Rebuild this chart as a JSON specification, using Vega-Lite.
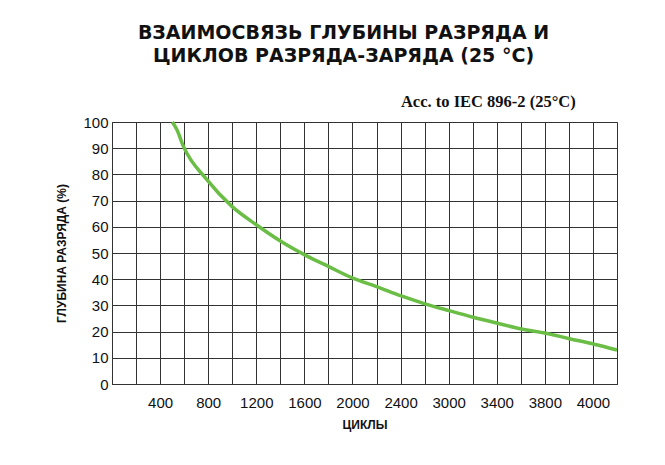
{
  "$schema": "https://vega.github.io/schema/vega-lite/v6.json",
  "autosize": {"type": "none"},
  "width": 505,
  "height": 262,
  "padding": {"left": 112, "top": 122, "right": 48, "bottom": 81},
  "background": "white",
  "title": {
    "text": ["ВЗАИМОСВЯЗЬ ГЛУБИНЫ РАЗРЯДА И", "ЦИКЛОВ РАЗРЯДА-ЗАРЯДА (25 °C)"],
    "font": "DejaVu Sans",
    "fontSize": 19,
    "fontWeight": "bold",
    "color": "#111",
    "lineHeight": 23,
    "anchor": "middle",
    "frame": "group",
    "dx": -21,
    "offset": 28
  },
  "config": {
    "view": {"stroke": "#333", "strokeWidth": 1},
    "axis": {
      "labelFont": "Liberation Sans Narrow, Liberation Sans",
      "labelFontSize": 15,
      "labelColor": "#111",
      "titleFont": "Liberation Sans",
      "titleFontSize": 12,
      "titleFontWeight": "bold",
      "titleColor": "#111",
      "gridColor": "#333",
      "gridOpacity": 1,
      "gridWidth": 1,
      "domainColor": "#333",
      "ticks": false,
      "labelOverlap": false
    }
  },
  "data": {
    "values": [
      {"cycles": 502, "dod": 100},
      {"cycles": 539, "dod": 97.1},
      {"cycles": 594, "dod": 90.7},
      {"cycles": 789, "dod": 78},
      {"cycles": 997, "dod": 67.8},
      {"cycles": 1200, "dod": 60.8},
      {"cycles": 1400, "dod": 54.6},
      {"cycles": 1603, "dod": 49.3},
      {"cycles": 1803, "dod": 44.8},
      {"cycles": 2003, "dod": 40.4},
      {"cycles": 2200, "dod": 37.2},
      {"cycles": 2406, "dod": 33.6},
      {"cycles": 2603, "dod": 30.6},
      {"cycles": 2803, "dod": 28},
      {"cycles": 3003, "dod": 25.5},
      {"cycles": 3206, "dod": 23.2},
      {"cycles": 3406, "dod": 21},
      {"cycles": 3606, "dod": 19.4},
      {"cycles": 3806, "dod": 17.3},
      {"cycles": 4011, "dod": 15.2},
      {"cycles": 4200, "dod": 13}
    ]
  },
  "layer": [
    {
      "mark": {"type": "line", "color": "#6abd45", "strokeWidth": 3.5, "interpolate": "monotone"},
      "encoding": {
        "x": {
          "field": "cycles",
          "type": "quantitative",
          "scale": {"domain": [0, 4200], "nice": false, "zero": false},
          "axis": {
            "title": "ЦИКЛЫ",
            "values": [200, 400, 600, 800, 1000, 1200, 1400, 1600, 1800, 2000, 2200, 2400, 2600, 2800, 3000, 3200, 3400, 3600, 3800, 4000],
            "labelExpr": "datum.value % 400 != 0 ? '' : datum.value == 2800 ? '3000' : datum.value == 3200 ? '3400' : datum.value == 3600 ? '3800' : '' + datum.value",
            "labelPadding": 11,
            "titlePadding": 9,
            "grid": true
          }
        },
        "y": {
          "field": "dod",
          "type": "quantitative",
          "scale": {"domain": [0, 100], "nice": false},
          "axis": {
            "title": "ГЛУБИНА РАЗРЯДА (%)",
            "values": [0, 10, 20, 30, 40, 50, 60, 70, 80, 90, 100],
            "labelPadding": 4,
            "titlePadding": 14,
            "grid": true
          }
        }
      }
    },
    {
      "data": {"values": [{"note": "Acc. to IEC 896-2 (25°C)"}]},
      "mark": {
        "type": "text",
        "font": "Liberation Serif",
        "fontSize": 16.5,
        "fontWeight": "bold",
        "color": "#111",
        "align": "center",
        "baseline": "alphabetic"
      },
      "encoding": {
        "text": {"field": "note"},
        "x": {
          "datum": 3130,
          "type": "quantitative",
          "scale": {"domain": [0, 4200], "nice": false, "zero": false},
          "axis": {
            "title": "ЦИКЛЫ",
            "values": [200, 400, 600, 800, 1000, 1200, 1400, 1600, 1800, 2000, 2200, 2400, 2600, 2800, 3000, 3200, 3400, 3600, 3800, 4000],
            "labelExpr": "datum.value % 400 != 0 ? '' : datum.value == 2800 ? '3000' : datum.value == 3200 ? '3400' : datum.value == 3600 ? '3800' : '' + datum.value",
            "labelPadding": 11,
            "titlePadding": 9,
            "grid": true
          }
        },
        "y": {
          "datum": 105.8,
          "type": "quantitative",
          "scale": {"domain": [0, 100], "nice": false},
          "axis": {
            "title": "ГЛУБИНА РАЗРЯДА (%)",
            "values": [0, 10, 20, 30, 40, 50, 60, 70, 80, 90, 100],
            "labelPadding": 4,
            "titlePadding": 14,
            "grid": true
          }
        }
      }
    }
  ]
}
